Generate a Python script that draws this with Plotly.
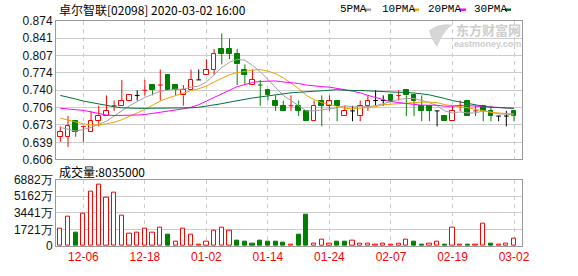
import plotly.graph_objects as go

# ---------------- data ----------------
dates = ["12-03", "12-04", "12-05", "12-06", "12-09", "12-10", "12-11", "12-12", "12-13", "12-16",
         "12-17", "12-18", "12-19", "12-20", "12-23", "12-24", "12-27", "12-30", "12-31", "01-02",
         "01-03", "01-06", "01-07", "01-08", "01-09", "01-10", "01-13", "01-14", "01-15", "01-16",
         "01-17", "01-20", "01-21", "01-22", "01-23", "01-24", "01-29", "01-30", "01-31", "02-03",
         "02-04", "02-05", "02-06", "02-07", "02-10", "02-11", "02-12", "02-13", "02-14", "02-17",
         "02-18", "02-19", "02-20", "02-21", "02-24", "02-25", "02-26", "02-27", "02-28", "03-02"]

opens = [0.65, 0.65, 0.68, 0.67, 0.66, 0.68, 0.69, 0.71, 0.71, 0.72,
         0.73, 0.74, 0.75, 0.75, 0.77, 0.75, 0.73, 0.74, 0.76, 0.77,
         0.78, 0.82, 0.82, 0.81, 0.78, 0.75, 0.75, 0.74, 0.72, 0.71,
         0.71, 0.71, 0.70, 0.68, 0.72, 0.71, 0.72, 0.69, 0.70, 0.69,
         0.71, 0.72, 0.72, 0.73, 0.73, 0.74, 0.73, 0.71, 0.71, 0.70,
         0.69, 0.68, 0.71, 0.72, 0.70, 0.71, 0.70, 0.69, 0.69, 0.70]
highs = [0.67, 0.69, 0.68, 0.67, 0.70, 0.71, 0.73, 0.72, 0.76, 0.73,
         0.74, 0.76, 0.75, 0.78, 0.77, 0.75, 0.75, 0.78, 0.78, 0.80,
         0.82, 0.85, 0.84, 0.82, 0.79, 0.78, 0.76, 0.74, 0.73, 0.72,
         0.73, 0.72, 0.70, 0.72, 0.73, 0.73, 0.72, 0.71, 0.71, 0.72,
         0.73, 0.74, 0.73, 0.73, 0.74, 0.74, 0.73, 0.73, 0.71, 0.70,
         0.69, 0.71, 0.72, 0.72, 0.71, 0.71, 0.71, 0.69, 0.70, 0.70]
lows = [0.64, 0.63, 0.65, 0.64, 0.66, 0.67, 0.69, 0.70, 0.71, 0.72,
        0.72, 0.73, 0.73, 0.72, 0.74, 0.73, 0.71, 0.74, 0.76, 0.77,
        0.77, 0.79, 0.80, 0.75, 0.75, 0.75, 0.71, 0.72, 0.70, 0.70,
        0.70, 0.69, 0.68, 0.68, 0.67, 0.70, 0.68, 0.69, 0.68, 0.68,
        0.70, 0.71, 0.71, 0.72, 0.72, 0.69, 0.69, 0.68, 0.68, 0.67,
        0.68, 0.68, 0.70, 0.69, 0.69, 0.68, 0.68, 0.68, 0.67, 0.68]
closes = [0.66, 0.67, 0.66, 0.67, 0.68, 0.69, 0.70, 0.71, 0.72, 0.73,
          0.73, 0.74, 0.74, 0.75, 0.74, 0.74, 0.74, 0.76, 0.76, 0.78,
          0.81, 0.81, 0.81, 0.79, 0.77, 0.76, 0.75, 0.73, 0.71, 0.70,
          0.71, 0.70, 0.68, 0.71, 0.71, 0.72, 0.71, 0.70, 0.70, 0.71,
          0.72, 0.72, 0.72, 0.72, 0.73, 0.73, 0.72, 0.70, 0.70, 0.70,
          0.68, 0.70, 0.71, 0.69, 0.70, 0.70, 0.69, 0.69, 0.69, 0.69]

# volume in 万股
volumes = [1760, 3060, 1400, 3360, 5650, 6350, 4990, 5550, 3190, 1260,
           1360, 1760, 1400, 1860, 1200, 400, 1760, 1200, 100, 465,
           1560, 1860, 1560, 600, 500, 200, 600, 430, 500, 330,
           100, 1200, 3290, 265, 630, 200, 400, 465, 565, 200,
           200, 100, 200, 100, 265, 630, 500, 100, 200, 400,
           100, 1860, 100, 100, 100, 2290, 200, 100, 265, 803.5]

ma5 = [0.668, 0.664, 0.661, 0.664, 0.668, 0.674, 0.680, 0.690, 0.700, 0.710,
       0.718, 0.726, 0.732, 0.738, 0.740, 0.742, 0.742, 0.746, 0.748, 0.756,
       0.770, 0.784, 0.794, 0.800, 0.798, 0.788, 0.776, 0.760, 0.744, 0.730,
       0.720, 0.710, 0.700, 0.700, 0.702, 0.704, 0.706, 0.710, 0.708, 0.708,
       0.708, 0.710, 0.714, 0.718, 0.722, 0.724, 0.724, 0.720, 0.716, 0.710,
       0.700, 0.696, 0.698, 0.696, 0.696, 0.700, 0.698, 0.694, 0.694, 0.692]
ma10 = [0.686, 0.682, 0.678, 0.675, 0.673, 0.673, 0.675, 0.678, 0.683, 0.689,
        0.696, 0.703, 0.711, 0.719, 0.725, 0.730, 0.734, 0.739, 0.743, 0.748,
        0.756, 0.763, 0.770, 0.774, 0.777, 0.779, 0.780, 0.777, 0.772, 0.764,
        0.754, 0.743, 0.730, 0.722, 0.716, 0.712, 0.708, 0.705, 0.704, 0.705,
        0.706, 0.708, 0.712, 0.713, 0.715, 0.716, 0.717, 0.717, 0.717, 0.716,
        0.712, 0.710, 0.709, 0.706, 0.703, 0.700, 0.697, 0.696, 0.695, 0.694]
ma20 = [0.705, 0.704, 0.703, 0.701, 0.698, 0.695, 0.692, 0.691, 0.691, 0.691,
        0.692, 0.693, 0.695, 0.697, 0.699, 0.701, 0.704, 0.707, 0.712, 0.719,
        0.726, 0.733, 0.741, 0.747, 0.751, 0.755, 0.757, 0.758, 0.758, 0.756,
        0.755, 0.753, 0.750, 0.748, 0.747, 0.746, 0.744, 0.741, 0.738, 0.735,
        0.730, 0.726, 0.721, 0.718, 0.716, 0.714, 0.713, 0.711, 0.711, 0.711,
        0.709, 0.709, 0.711, 0.710, 0.709, 0.708, 0.707, 0.707, 0.706, 0.705]
ma30 = [0.730, 0.727, 0.723, 0.719, 0.716, 0.713, 0.710, 0.708, 0.706, 0.705,
        0.705, 0.705, 0.705, 0.705, 0.705, 0.705, 0.705, 0.706, 0.707, 0.709,
        0.711, 0.714, 0.717, 0.720, 0.723, 0.725, 0.727, 0.729, 0.731, 0.734,
        0.735, 0.736, 0.737, 0.738, 0.739, 0.740, 0.741, 0.740, 0.740, 0.739,
        0.739, 0.738, 0.737, 0.736, 0.736, 0.736, 0.735, 0.733, 0.731, 0.728,
        0.724, 0.720, 0.717, 0.714, 0.711, 0.709, 0.707, 0.706, 0.705, 0.705]

price_tick_labels = ["0.606", "0.639", "0.673", "0.706", "0.740", "0.774", "0.807", "0.841", "0.874"]
vol_tick_values = [0, 1721, 3441, 5162, 6882]
vol_tick_labels = ["0", "1721万", "3441万", "5162万", "6882万"]
x_tick_labels = ["12-06", "12-18", "01-02", "01-14", "01-24", "02-07", "02-19", "03-02"]
ma_names = ["5PMA", "10PMA", "20PMA", "30PMA"]
title_text = "卓尔智联[02098] 2020-03-02 16:00"
vol_title = "成交量:8035000"
watermark_cn = "东方财富网"
watermark_en = "eastmoney.com"

# ---------------- styles ----------------
RED = "#ff0000"
GREEN = "#008000"
BLACK = "#000000"
MA_COLORS = ["#a0a0a0", "#f2a100", "#ff00ff", "#00703a"]
W, H = 578, 276
L, R, T, B = 56, 56, 21, 21
PW, PH = W - L - R, H - T - B


def px(X):
    return (X - L) / PW


def py(Y):
    return (H - B - Y) / PH


n = len(dates)
xs = list(range(n))


def candle_state(i):
    if closes[i] > opens[i]:
        return "up"
    if closes[i] < opens[i]:
        return "down"
    prev = closes[i - 1] if i > 0 else opens[i]
    if closes[i] > prev:
        return "up"
    if closes[i] < prev:
        return "down"
    return "flat"


fig = go.Figure()

colors = {"up": RED, "down": GREEN, "flat": BLACK}
BODY_W = 0.62
for state, col in colors.items():
    idx = [i for i in xs if candle_state(i) == state]
    wx, wy = [], []
    for i in idx:
        top = max(opens[i], closes[i])
        bot = min(opens[i], closes[i])
        if highs[i] > top:
            wx += [i, i, None]
            wy += [highs[i], top, None]
        if lows[i] < bot:
            wx += [i, i, None]
            wy += [bot, lows[i], None]
        if opens[i] == closes[i]:
            wx += [i - BODY_W / 2, i + BODY_W / 2, None]
            wy += [closes[i], closes[i], None]
    fig.add_trace(go.Scatter(x=wx, y=wy, mode="lines", line=dict(color=col, width=1),
                             xaxis="x", yaxis="y", hoverinfo="skip", showlegend=False))
    bidx = [i for i in idx if opens[i] != closes[i]]
    if bidx:
        fig.add_trace(go.Bar(
            x=bidx,
            base=[min(opens[i], closes[i]) for i in bidx],
            y=[abs(closes[i] - opens[i]) for i in bidx],
            width=BODY_W,
            marker=dict(color="#ffffff" if state == "up" else col, line=dict(color=col, width=1)),
            xaxis="x", yaxis="y", hoverinfo="skip", showlegend=False))

# moving averages
for ma, col in zip([ma5, ma10, ma20, ma30], MA_COLORS):
    fig.add_trace(go.Scatter(x=xs, y=ma, mode="lines", line=dict(color=col, width=1),
                             xaxis="x", yaxis="y", hoverinfo="skip", showlegend=False))

# volume
vol_up = [i for i in xs if i == 0 or closes[i] >= closes[i - 1]]
vol_dn = [i for i in xs if i > 0 and closes[i] < closes[i - 1]]
VOL_W = 0.55
fig.add_trace(go.Bar(x=vol_up, y=[volumes[i] for i in vol_up], width=VOL_W,
                     marker=dict(color="#ffffff", line=dict(color=RED, width=1)),
                     xaxis="x2", yaxis="y2", hoverinfo="skip", showlegend=False))
fig.add_trace(go.Bar(x=vol_dn, y=[volumes[i] for i in vol_dn], width=VOL_W,
                     marker=dict(color=GREEN, line=dict(color=GREEN, width=1)),
                     xaxis="x2", yaxis="y2", hoverinfo="skip", showlegend=False))

tickpos = [dates.index(t) for t in x_tick_labels]
xrange = [-0.56, 60.04]
axis_line = "#9a9a9a"
grid_col = "#cccccc"
label_font = dict(family="Liberation Sans, Arial", size=12, color="#111111")

fig.update_layout(
    width=W, height=H, margin=dict(l=L, r=R, t=T, b=B),
    paper_bgcolor="#ffffff", plot_bgcolor="#ffffff",
    barmode="overlay", bargap=0, showlegend=False,
    xaxis=dict(domain=[0, 1], anchor="y", range=xrange, tickvals=tickpos, showticklabels=False,
               showgrid=True, gridcolor=grid_col, griddash="4px,4px", gridwidth=1,
               showline=True, mirror=True, linecolor=axis_line, linewidth=1, zeroline=False, ticks=""),
    yaxis=dict(domain=[py(165), 1], anchor="x", range=[0.606, 0.874],
               tickvals=[float(s) for s in price_tick_labels], ticktext=price_tick_labels,
               showgrid=True, gridcolor=grid_col, gridwidth=1, zeroline=False,
               showline=True, mirror=True, linecolor=axis_line, linewidth=1, ticks="",
               tickfont=label_font),
    xaxis2=dict(domain=[0, 1], anchor="y2", range=xrange, matches="x", tickvals=tickpos,
                ticktext=x_tick_labels, tickfont=dict(family="Liberation Sans, Arial", size=12, color=RED),
                showgrid=True, gridcolor=grid_col, griddash="4px,4px", gridwidth=1,
                showline=True, mirror=True, linecolor=axis_line, linewidth=1, zeroline=False, ticks=""),
    yaxis2=dict(domain=[0, py(186)], anchor="x2", range=[0, 6882],
                tickvals=vol_tick_values, ticktext=vol_tick_labels,
                showgrid=True, gridcolor=grid_col, gridwidth=1, zeroline=False,
                showline=True, mirror=True, linecolor=axis_line, linewidth=1, ticks="",
                tickfont=label_font),
)

ann = []
ann.append(dict(text=title_text, x=px(57), y=py(9), xref="paper", yref="paper",
                xanchor="left", yanchor="middle", showarrow=False,
                font=dict(family="Noto Sans CJK SC", size=12, color="#000000")))
ann.append(dict(text=vol_title, x=px(57), y=py(178), xref="paper", yref="paper",
                xanchor="left", yanchor="middle", showarrow=False,
                font=dict(family="Noto Sans CJK SC", size=12, color="#000000")))
legend_x = [338, 380, 426, 472]
square_x = [365, 413, 460, 505]
shapes = []
for name, lx, sx, col in zip(ma_names, legend_x, square_x, MA_COLORS):
    ann.append(dict(text=name, x=px(lx), y=py(9), xref="paper", yref="paper",
                    xanchor="left", yanchor="middle", showarrow=False,
                    font=dict(family="Liberation Mono", size=11, color="#000000")))
    shapes.append(dict(type="rect", xref="paper", yref="paper",
                       x0=px(sx), x1=px(sx + 6), y0=py(10.5), y1=py(8),
                       fillcolor=col, line=dict(width=0)))
# watermark
ann.append(dict(text="<b>" + watermark_cn + "</b>", x=px(522), y=py(29.5), xref="paper", yref="paper",
                xanchor="right", yanchor="middle", showarrow=False, borderpad=0,
                font=dict(family="Noto Sans CJK SC", size=13, color="#cdcdcd")))
ann.append(dict(text="<b>" + watermark_en + "</b>", x=px(522), y=py(45), xref="paper", yref="paper",
                xanchor="right", yanchor="middle", showarrow=False, borderpad=0,
                font=dict(family="Liberation Sans", size=9, color="#cdcdcd")))
logo = [(429, 31), (440, 22), (453, 25), (444, 30), (442, 38), (437, 48), (431, 40)]
path = "M {:.4f},{:.4f} Q {:.4f},{:.4f} {:.4f},{:.4f} Q {:.4f},{:.4f} {:.4f},{:.4f} Q {:.4f},{:.4f} {:.4f},{:.4f} Z".format(
    px(logo[0][0]), py(logo[0][1]), px(logo[1][0]), py(logo[1][1]), px(logo[2][0]), py(logo[2][1]),
    px(logo[3][0]), py(logo[3][1]), px(logo[5][0]), py(logo[5][1]),
    px(logo[6][0]), py(logo[6][1]), px(logo[0][0]), py(logo[0][1]))
shapes.append(dict(type="path", xref="paper", yref="paper", path=path,
                   fillcolor="#d6d6d6", line=dict(width=0), layer="above"))
fig.update_layout(annotations=ann, shapes=shapes)

fig.write_html("out.html")
